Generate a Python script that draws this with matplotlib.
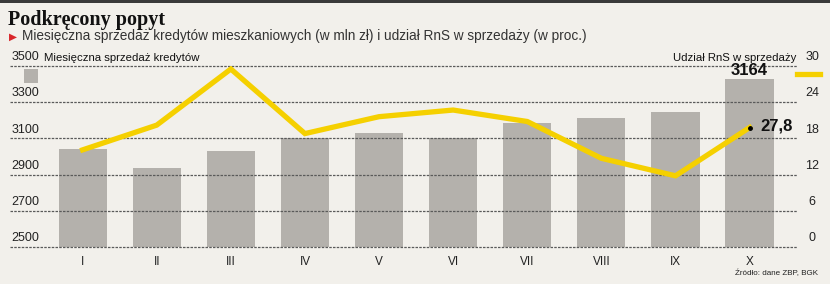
import matplotlib
matplotlib.use("Agg")
import matplotlib.pyplot as plt
from matplotlib.patches import Rectangle
from matplotlib.lines import Line2D

months = ["I", "II", "III", "IV", "V", "VI", "VII", "VIII", "IX", "X"]
sales = [3041, 2938, 3032, 3100, 3128, 3104, 3187, 3214, 3248, 3427]
share = [16.1, 20.2, 29.5, 18.8, 21.6, 22.7, 20.8, 14.7, 11.8, 19.8]
left_ticks = [2500, 2700, 2900, 3100, 3300, 3500]
right_ticks = [0, 6, 12, 18, 24, 30]
sales_label = "3164"
share_label = "27,8"

BG = "#f2f0eb"
BAR = "#b4b1ac"
YEL = "#f5d000"
GRID = "#5a5a5a"
FONT = "Liberation Sans"

W, H = 830, 284
fig = plt.figure(figsize=(W / 100, H / 100), dpi=100, facecolor=BG)

def fx(px):
    return px / W

def fy(py):
    return 1 - py / H

# top dark rule
fig.add_artist(Rectangle((0, fy(3)), 1, 3 / H, transform=fig.transFigure,
                         color="#3a3a3a", lw=0))

ax = fig.add_axes([fx(10), fy(247), fx(797 - 10), (247 - 66) / H])
ax.set_facecolor("none")
ax.set_ylim(2500, 3500)
ax.set_xlim(-0.98, 9.64)
for s in ax.spines.values():
    s.set_visible(False)
ax.set_xticks([])
ax.set_yticks([])

x = list(range(len(months)))
for v in left_ticks:
    ax.axhline(v, color=GRID, lw=0.9, ls=(0, (2, 1)), zorder=3, clip_on=False)
ax.bar(x, [s - 2500 for s in sales], bottom=2500, width=0.65, color=BAR, zorder=2)

ax2 = ax.twinx()
ax2.set_ylim(0, 30)
for s in ax2.spines.values():
    s.set_visible(False)
ax2.set_yticks([])
ax2.plot(x, share, color=YEL, lw=3.8, solid_joinstyle="miter", zorder=3)
ax2.plot([x[-1]], [share[-1]], "o", color="black", ms=2.5, zorder=4)

# tick labels
for v in left_ticks:
    ax.annotate(str(v), xy=(0, v), xycoords=("axes fraction", "data"),
                xytext=(1, 2), textcoords="offset points", ha="left", va="bottom",
                fontsize=9, family=FONT, color="#222")
for v in right_ticks:
    ax2.annotate(str(v), xy=(1, v), xycoords=("axes fraction", "data"),
                 xytext=(11, 2), textcoords="offset points", ha="center", va="bottom",
                 fontsize=9, family=FONT, color="#222")
for i, m in enumerate(months):
    ax.annotate(m, xy=(i, 2500), xytext=(0, -6.5), textcoords="offset points",
                ha="center", va="top", fontsize=8.5, family=FONT, color="#222")

# value labels
ax.annotate(sales_label, xy=(x[-1], sales[-1]), xytext=(0, 1), textcoords="offset points",
            ha="center", va="bottom", fontsize=12, fontweight="bold", family=FONT, color="#111")
ax2.annotate(share_label, xy=(x[-1], share[-1]), xytext=(8, 1), textcoords="offset points",
             ha="left", va="center", fontsize=12, fontweight="bold", family=FONT, color="#111")

# series titles
fig.text(fx(44), fy(63), "Miesięczna sprzedaż kredytów", ha="left", va="bottom",
         fontsize=8.2, family=FONT, color="#111")
fig.text(fx(796), fy(63), "Udział RnS w sprzedaży", ha="right", va="bottom",
         fontsize=8.2, family=FONT, color="#111")

# legend keys
fig.add_artist(Rectangle((fx(24), fy(83)), 14 / W, 14 / H, transform=fig.transFigure,
                         color=BAR, lw=0))
fig.add_artist(Line2D([fx(797), fx(820)], [fy(74), fy(74)], transform=fig.transFigure,
                      color=YEL, lw=3.8))

# title & subtitle
fig.text(fx(8), fy(25), "Podkręcony popyt", ha="left", va="baseline",
         fontsize=14.5, fontweight="bold", family="Liberation Serif", color="#111")
fig.text(fx(9), fy(40), "\u25B6", ha="left", va="baseline", fontsize=7.5,
         family="DejaVu Sans", color="#d9262a")
fig.text(fx(22), fy(40), "Miesięczna sprzedaż kredytów mieszkaniowych (w mln zł) i udział RnS w sprzedaży (w proc.)",
         ha="left", va="baseline", fontsize=9.8, family=FONT, color="#333")

fig.text(fx(818), fy(275), "Źródło: dane ZBP, BGK", ha="right", va="baseline",
         fontsize=5.8, family=FONT, color="#222")

fig.savefig("out.png", dpi=100, facecolor=BG)
